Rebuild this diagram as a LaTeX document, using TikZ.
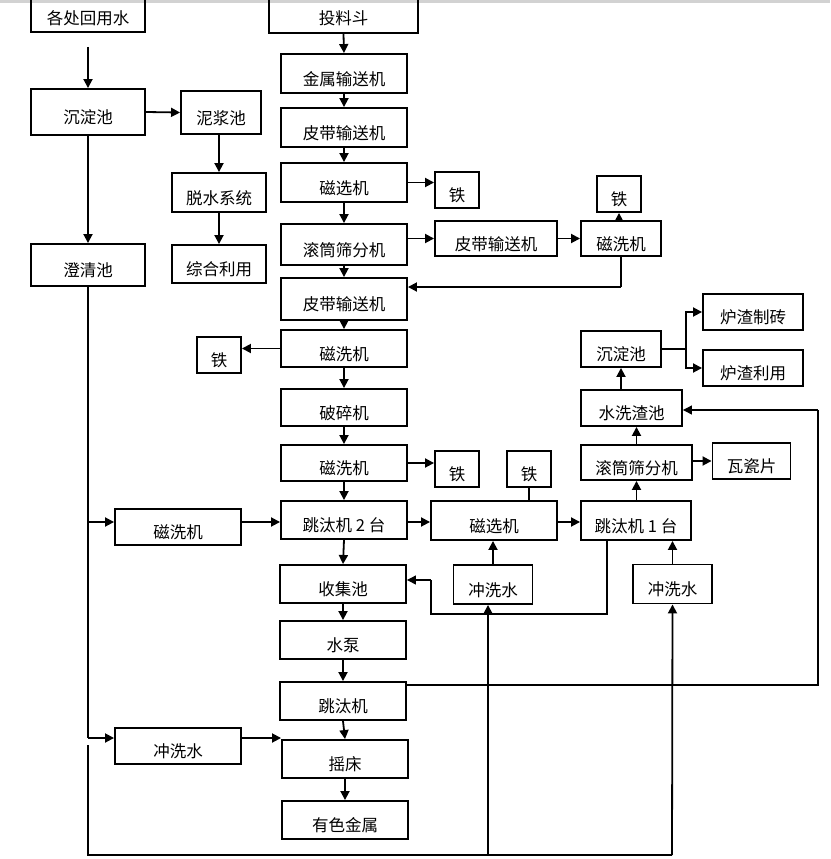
\documentclass[tikz,border=0pt]{standalone}
\usepackage{fontspec}
\newfontfamily\cjk{Noto Sans CJK SC}
\usetikzlibrary{arrows.meta}
\tikzset{
  box/.style={draw, line width=1.9pt, inner sep=0pt, text height=23pt, text depth=0pt,
    font=\cjk\fontsize{16.5}{16.5}\selectfont, align=center},
  arr/.style={line width=1.8pt, -{Triangle[length=9pt,width=9pt]}},
  ln/.style={line width=1.8pt},
  thinarr/.style={line width=1.2pt, -{Triangle[length=9pt,width=9pt]}},
  thinln/.style={line width=1.2pt}
}
\newcommand{\bx}[6]{\node[box, minimum width=#4pt, minimum height=#5pt] (#1) at (#2,#3) {#6};}
\begin{document}
\begin{tikzpicture}[x=1pt,y=-1pt]
\useasboundingbox (0,0) rectangle (830,859);
\fill[gray!35] (0,0) rectangle (830,3);
% left column
\bx{hw}{88}{13}{114}{38}{各处回用水}
\bx{cdA}{88}{112}{114}{46}{沉淀池}
\bx{nj}{221}{112.5}{80}{43}{泥浆池}
\bx{ts}{219}{192.5}{94}{39}{脱水系统}
\bx{zh}{219}{264}{94}{38}{综合利用}
\bx{cq}{88}{265}{114}{42}{澄清池}
\bx{cxL}{178}{527}{126}{36}{磁洗机}
\bx{cwL}{178}{746}{126}{36}{冲洗水}
% center column
\bx{tl}{343.5}{13.5}{149}{39}{投料斗}
\bx{cA}{344}{73.5}{126}{39}{金属输送机}
\bx{cB}{344}{127.5}{126}{39}{皮带输送机}
\bx{cC}{344}{182.5}{126}{39}{磁选机}
\bx{cD}{344}{244.5}{126}{41}{滚筒筛分机}
\bx{cE}{344}{299}{126}{42}{皮带输送机}
\bx{cF}{344}{348.5}{126}{37}{磁洗机}
\bx{cG}{344}{407.5}{126}{37}{破碎机}
\bx{cH}{344}{463}{126}{36}{磁洗机}
\bx{cI}{344}{520}{126}{38}{跳汰机 2 台}
\bx{cJ}{343}{584}{126}{38}{收集池}
\bx{cK}{343}{640}{126}{38}{水泵}
\bx{cL}{343}{701}{126}{38}{跳汰机}
\bx{cM}{345}{759}{126}{38}{摇床}
\bx{cN}{345}{820}{126}{38}{有色金属}
% right side
\bx{feA}{457}{190}{44}{36}{铁}
\bx{pd}{496}{238.5}{122}{35}{皮带输送机}
\bx{cxA}{621}{238.5}{80}{35}{磁洗机}
\bx{feB}{619}{194}{44}{36}{铁}
\bx{feC}{219}{355}{44}{36}{铁}
\bx{cdB}{621}{349}{80}{36}{沉淀池}
\bx{lzA}{753}{312}{100}{36}{炉渣制砖}
\bx{lzB}{753}{368}{100}{36}{炉渣利用}
\bx{sx}{631.5}{408}{101}{36}{水洗渣池}
\bx{gt}{636.5}{462.5}{111}{35}{滚筒筛分机}
\bx{wc}{751.5}{461}{78}{36}{瓦瓷片}
\bx{feD}{457}{469}{44}{36}{铁}
\bx{feE}{529}{469}{44}{36}{铁}
\bx{cxB}{494}{520.5}{126}{39}{磁选机}
\bx{tt}{636}{520.5}{110}{39}{跳汰机 1 台}
\bx{cwA}{493}{584.5}{79}{39}{冲洗水}
\bx{cwB}{672.5}{584}{79}{39}{冲洗水}
% coordinates
\coordinate (hws) at (88,47);
\coordinate (jA) at (88,522);
\coordinate (jB) at (88,738);
\coordinate (bA) at (88,745);
\coordinate (bB) at (88,855);
\coordinate (bC) at (488,855);
\coordinate (bD) at (672,855);
\coordinate (fA) at (621,287);
\coordinate (fk) at (686,349);
\coordinate (gA) at (607,614);
\coordinate (gB) at (431,614);
\coordinate (gC) at (431,580);
\coordinate (hA) at (818,685);
\coordinate (hB) at (818,410);
% left connectors
\draw[arr] (hws) -- (cdA.north);
\draw[arr] (cdA.east) -- (nj.west);
\draw[arr] (ts.north |- nj.south) -- (ts.north);
\draw[arr] (ts.south) -- (zh.north);
\draw[arr] (cdA.south) -- (cq.north);
\draw[ln] (cq.south) -- (jB);
\draw[arr] (jB) -- (jB -| cwL.west);
\draw[arr] (jA) -- (jA -| cxL.west);
\draw[arr] (jA -| cxL.east) -- (jA -| cI.west);
\draw[arr] (jB -| cwL.east) -- (jB -| cM.west);
\draw[ln] (bA) -- (bB) -- (bD);
\draw[arr] (bC) -- (bC |- cwA.south);
\draw[arr] (bD) -- (cwB.south);
% center chain
\draw[arr] (tl.south) -- (cA.north);
\draw[arr] (cA.south) -- (cB.north);
\draw[arr] (cB.south) -- (cC.north);
\draw[arr] (cC.south) -- (cD.north);
\draw[arr] (cD.south) -- (cE.north);
\draw[arr] (cE.south) -- (cF.north);
\draw[arr] (cF.south) -- (cG.north);
\draw[arr] (cG.south) -- (cH.north);
\draw[arr] (cH.south) -- (cI.north);
\draw[arr] (cI.south) -- (cJ.north);
\draw[arr] (cJ.south) -- (cK.north);
\draw[arr] (cK.south) -- (cL.north);
\draw[arr] (cL.south) -- (cM.north);
\draw[arr] (cM.south) -- (cN.north);
% right connectors
\draw[arr] (cC.east) -- (cC.east -| feA.west);
\draw[arr] (pd.west -| cD.east) -- (pd.west);
\draw[arr] (pd.east) -- (cxA.west);
\draw[arr] (cxA.north -| feB.south) -- (feB.south);
\draw[ln] (cxA.south) -- (fA);
\draw[arr] (fA) -- (fA -| cE.east);
\draw[arr] (cF.west) -- (cF.west -| feC.east);
\draw[arr] (cH.east) -- (cH.east -| feD.west);
\draw[arr] (jA -| cI.east) -- (jA -| cxB.west);
\draw[arr] (jA -| cxB.east) -- (jA -| tt.west);
\draw[ln] (feE.south) -- (feE.south |- cxB.north);
\draw[arr] (cwA.north) -- (cwA.north |- cxB.south);
\draw[arr] (cwB.north) -- (cwB.north |- tt.south);
\draw[arr] (tt.north -| gt.south) -- (gt.south);
\draw[arr] (gt.north) -- (gt.north |- sx.south);
\draw[arr] (wc.west -| gt.east) -- (wc.west);
\draw[arr] (sx.north -| cdB.south) -- (cdB.south);
\draw[ln] (cdB.east) -- (fk);
\draw[arr] (fk) -- (fk |- lzA.west) -- (lzA.west);
\draw[arr] (fk) -- (fk |- lzB.west) -- (lzB.west);
\draw[thinln] (tt.south -| gA) -- (gA) -- (gB) -- (gC);
\draw[thinarr] (gC) -- (gC -| cJ.east);
\draw[thinln] (hA -| cL.east) -- (hA) -- (hB);
\draw[thinarr] (hB) -- (hB -| sx.east);
\end{tikzpicture}
\end{document}
